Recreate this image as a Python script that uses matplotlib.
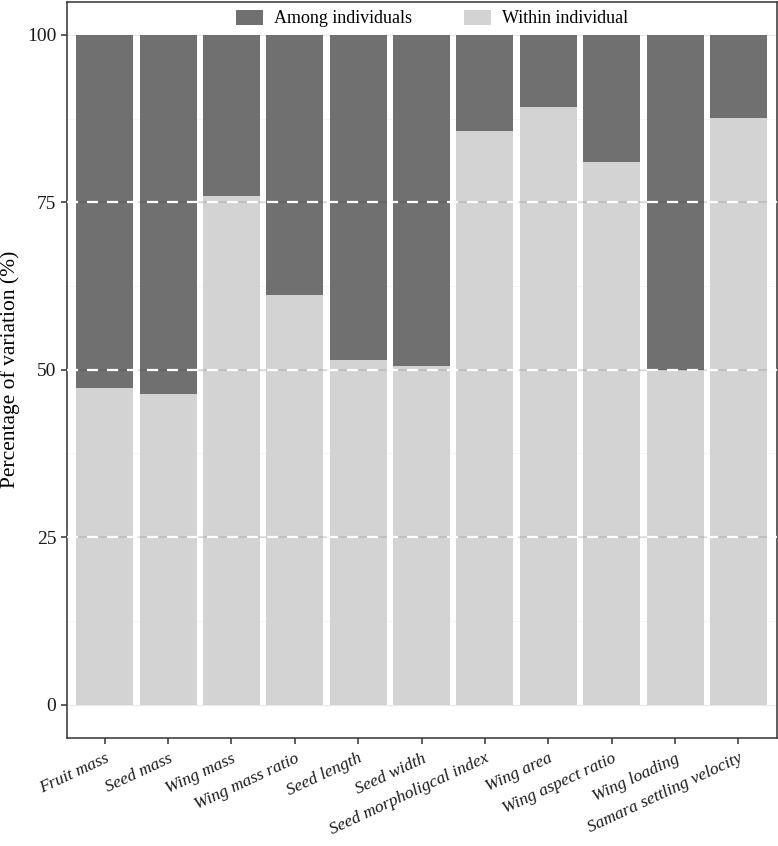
import matplotlib
matplotlib.use("Agg")
import matplotlib.pyplot as plt
from matplotlib.patches import Patch
import numpy as np

categories = ["Fruit mass", "Seed mass", "Wing mass", "Wing mass ratio", "Seed length",
              "Seed width", "Seed morpholigcal index", "Wing area", "Wing aspect ratio",
              "Wing loading", "Samara settling velocity"]
within = [47.2, 46.4, 76.0, 61.2, 51.5, 50.6, 85.7, 89.3, 81.0, 49.9, 87.6]
among = [100 - w for w in within]
yticks = [0, 25, 50, 75, 100]

plt.rcParams['font.family'] = ['Liberation Serif', 'DejaVu Serif']

fig = plt.figure(figsize=(7.78, 8.46), dpi=100)
ax = fig.add_axes([66.7/778, 1 - 738/846, (776.5 - 66.7)/778, (738 - 1.5)/846])

x = np.arange(1, len(categories) + 1)
dark = "#707070"
light = "#d3d3d3"

# grid
for v in [12.5, 37.5, 62.5, 87.5]:
    ax.axhline(v, color="#f2f2f2", lw=0.5, zorder=0)
for v in yticks:
    ax.axhline(v, color="#ebebeb", lw=1.0, zorder=0)

ax.bar(x, within, width=0.9, color=light, zorder=2, linewidth=0)
ax.bar(x, among, bottom=within, width=0.9, color=dark, zorder=2, linewidth=0)

for v in [25, 50, 75]:
    ax.axhline(v, color="black", alpha=0.1, lw=1.2, zorder=3)
    ax.axhline(v, color="white", lw=1.6, ls=(0, (5, 4)), zorder=4)

ax.set_xlim(0.4, 11.6)
ax.set_ylim(-5, 105)
ax.set_yticks(yticks)
ax.set_yticklabels([str(v) for v in yticks], fontsize=14, color="#1a1a1a")
ax.set_xticks(x)
ax.set_xticklabels(categories, rotation=25, ha="right", rotation_mode="anchor",
                   fontsize=12.5, style="italic", color="#1a1a1a")
ax.tick_params(axis="both", length=4, width=1.1, color="#333333")
ax.tick_params(axis="x", pad=5)
ax.set_ylabel("Percentage of variation (%)", fontsize=15.5, labelpad=5)

for s in ax.spines.values():
    s.set_color("#333333")
    s.set_linewidth(1.1)

handles = [Patch(facecolor=dark, edgecolor="none", label="Among individuals"),
           Patch(facecolor=light, edgecolor="none", label="Within individual")]
leg = ax.legend(handles=handles, loc="upper center", ncol=2, frameon=True,
                fontsize=13, bbox_to_anchor=(0.515, 1.0), handlelength=1.5,
                handleheight=0.9, columnspacing=2.9, handletextpad=0.6,
                borderpad=0.25, borderaxespad=0.2, facecolor="white",
                edgecolor="none", framealpha=1)
leg.set_zorder(5)

fig.savefig("out.png", dpi=100)
